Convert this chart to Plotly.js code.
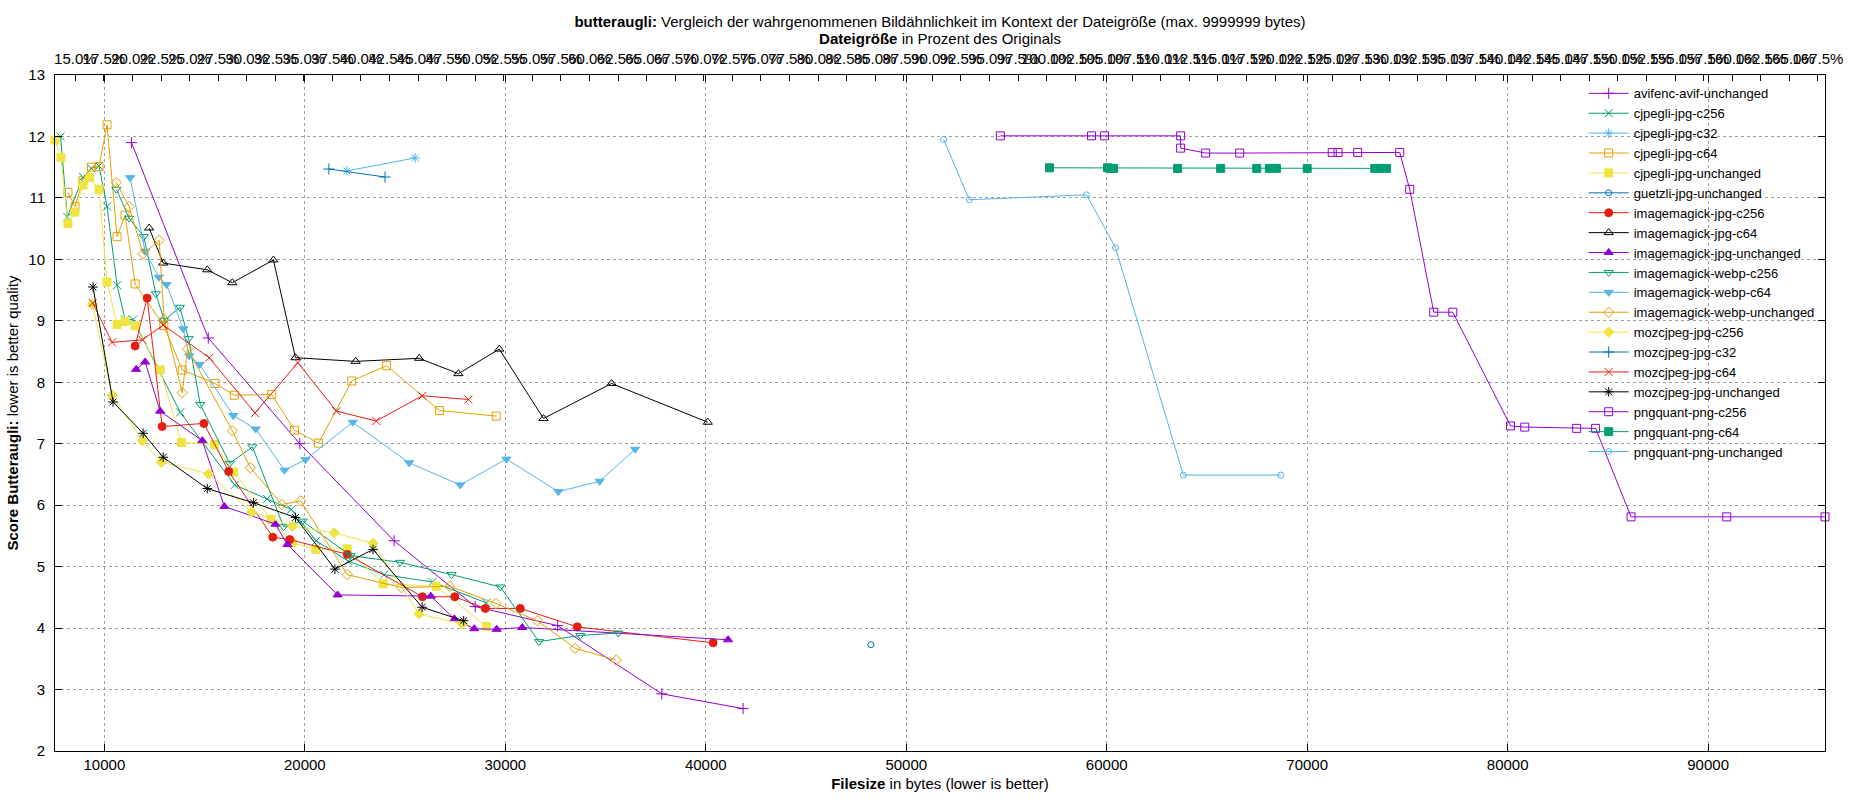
<!DOCTYPE html>
<html>
<head>
<meta charset="utf-8">
<script src="https://cdn.plot.ly/plotly-3.0.1.min.js"></script>
<style>
html, body { margin: 0; padding: 0; background: #fff; }
#plot { width: 1850px; height: 800px; }
</style>
</head>
<body>
<div id="plot"></div>
<script>
var avifencX = [11350, 15183, 19750, 24450, 28500, 32608, 37807, 41860];
var avifencY = [11.90, 8.72, 7.00, 5.42, 4.35, 4.04, 2.93, 2.69];

var cjpegliC256X = [7817, 8150, 8933, 9350, 9733, 10133, 10633, 11033, 11433, 13783, 16500, 18117, 19317, 20567, 22167, 23950, 26367, 29053];
var cjpegliC256Y = [12.00, 10.69, 11.34, 11.48, 11.52, 10.86, 9.58, 9.02, 9.02, 7.51, 6.33, 6.10, 5.93, 5.42, 5.09, 4.87, 4.75, 4.41];

var cjpegliC32X = [22100, 25500];
var cjpegliC32Y = [11.44, 11.65];

var cjpegliC64X = [8183, 8533, 8933, 9350, 9733, 10133, 10633, 11033, 11533, 12967, 13883, 15517, 16483, 18350, 19483, 20683, 22338, 24079, 26715, 29550];
var cjpegliC64Y = [11.09, 10.86, 11.28, 11.50, 11.51, 12.19, 10.37, 10.72, 9.60, 8.92, 8.20, 7.98, 7.79, 7.80, 7.22, 7.01, 8.02, 8.27, 7.54, 7.45];

var cjpegliUnchX = [7537, 7833, 8183, 8533, 8933, 9267, 9733, 10133, 10633, 11033, 11533, 12783, 13850, 15500, 16450, 18317, 19367, 20550, 22117, 23900, 26550, 29053];
var cjpegliUnchY = [11.94, 11.66, 10.58, 10.77, 11.21, 11.33, 11.14, 9.63, 8.94, 8.99, 8.92, 8.20, 7.02, 6.99, 6.54, 5.77, 5.39, 5.28, 5.29, 4.72, 4.68, 4.03];

var guetzliX = [48238];
var guetzliY = [3.73];

var imJpgC256X = [11533, 12133, 12883, 14967, 16200, 18400, 19250, 22117, 25867, 27480, 29003, 30747, 33588, 40365];
var imJpgC256Y = [8.59, 9.37, 7.28, 7.33, 6.55, 5.48, 5.44, 5.20, 4.51, 4.51, 4.32, 4.32, 4.02, 3.76];

var imJpgC64X = [12233, 12933, 15133, 16383, 18433, 19533, 22537, 25704, 27660, 29699, 31904, 35303, 40100];
var imJpgC64Y = [10.51, 9.94, 9.83, 9.62, 9.99, 8.40, 8.34, 8.39, 8.14, 8.54, 7.41, 7.98, 7.35];

var imJpgUnchX = [11583, 12033, 12783, 14883, 15983, 18533, 19133, 21633, 26283, 27459, 28455, 29568, 30847, 41112];
var imJpgUnchY = [8.21, 8.33, 7.53, 7.05, 5.98, 5.69, 5.36, 4.54, 4.52, 4.15, 3.99, 3.98, 4.01, 3.81];

var imWebpC256X = [10600, 11233, 11967, 12567, 12983, 13767, 14200, 14783, 16250, 17383, 18940, 19890, 22283, 24750, 27320, 29751, 31678, 33737, 35631];
var imWebpC256Y = [11.14, 10.67, 10.37, 9.44, 9.01, 9.22, 8.71, 7.64, 6.68, 6.95, 5.65, 5.74, 5.18, 5.07, 4.87, 4.67, 3.78, 3.88, 3.92];

var imWebpC64X = [11283, 12033, 12717, 13100, 13933, 14233, 14750, 16433, 17550, 18983, 20030, 22390, 25200, 27750, 30054, 32646, 34709, 36477];
var imWebpC64Y = [11.33, 10.13, 9.71, 9.59, 8.87, 8.43, 8.29, 7.46, 7.24, 6.57, 6.74, 7.35, 6.69, 6.33, 6.75, 6.22, 6.39, 6.91];

var imWebpUnchX = [10600, 11233, 11933, 12733, 12983, 13883, 14150, 16383, 17283, 18850, 19790, 22117, 24817, 27230, 29535, 31595, 33488, 35531];
var imWebpUnchY = [11.25, 10.86, 10.09, 10.31, 9.02, 7.83, 8.54, 7.21, 6.61, 6.01, 6.07, 4.87, 4.66, 4.68, 4.40, 4.12, 3.67, 3.48];

var mozC256X = [9400, 10383, 11900, 12840, 15200, 17350, 19383, 21467, 23400, 25700, 27841];
var mozC256Y = [9.27, 7.79, 7.05, 6.70, 6.51, 5.89, 5.66, 5.55, 5.38, 4.23, 4.07];

var mozC32X = [21200, 24000];
var mozC32Y = [11.47, 11.34];

var mozC64X = [9417, 10383, 11900, 12933, 15233, 17517, 19650, 21575, 23565, 25853, 28157];
var mozC64Y = [9.29, 8.65, 8.69, 8.93, 8.40, 7.50, 8.32, 7.53, 7.37, 7.78, 7.72];

var mozUnchX = [9433, 10433, 11933, 12933, 15133, 17433, 19533, 21500, 23400, 25850, 27924];
var mozUnchY = [9.55, 7.68, 7.17, 6.78, 6.27, 6.04, 5.80, 4.96, 5.28, 4.34, 4.12];

var pngC256X = [54695, 59241, 59890, 63686, 63686, 64935, 66633, 71250, 71539, 72518, 74615, 75115, 76314, 77263, 80144, 80851, 83444, 84387, 86155, 90928, 95830];
var pngC256Y = [12.01, 12.01, 12.01, 12.01, 11.81, 11.73, 11.73, 11.74, 11.74, 11.74, 11.74, 11.14, 9.14, 9.14, 7.29, 7.27, 7.25, 7.25, 5.81, 5.81, 5.81];

var pngC64X = [57143, 60040, 60200, 60340, 63536, 65684, 67483, 68115, 68465, 70000, 73370, 73600, 73960];
var pngC64Y = [11.49, 11.49, 11.48, 11.48, 11.48, 11.48, 11.48, 11.48, 11.48, 11.48, 11.48, 11.48, 11.48];

var pngUnchX = [51865, 53147, 58991, 60440, 63820, 68681];
var pngUnchY = [11.95, 10.97, 11.05, 10.19, 6.49, 6.49];

var series = [
  ['avifenc-avif-unchanged', avifencX, avifencY],
  ['cjpegli-jpg-c256', cjpegliC256X, cjpegliC256Y],
  ['cjpegli-jpg-c32', cjpegliC32X, cjpegliC32Y],
  ['cjpegli-jpg-c64', cjpegliC64X, cjpegliC64Y],
  ['cjpegli-jpg-unchanged', cjpegliUnchX, cjpegliUnchY],
  ['guetzli-jpg-unchanged', guetzliX, guetzliY],
  ['imagemagick-jpg-c256', imJpgC256X, imJpgC256Y],
  ['imagemagick-jpg-c64', imJpgC64X, imJpgC64Y],
  ['imagemagick-jpg-unchanged', imJpgUnchX, imJpgUnchY],
  ['imagemagick-webp-c256', imWebpC256X, imWebpC256Y],
  ['imagemagick-webp-c64', imWebpC64X, imWebpC64Y],
  ['imagemagick-webp-unchanged', imWebpUnchX, imWebpUnchY],
  ['mozcjpeg-jpg-c256', mozC256X, mozC256Y],
  ['mozcjpeg-jpg-c32', mozC32X, mozC32Y],
  ['mozcjpeg-jpg-c64', mozC64X, mozC64Y],
  ['mozcjpeg-jpg-unchanged', mozUnchX, mozUnchY],
  ['pngquant-png-c256', pngC256X, pngC256Y],
  ['pngquant-png-c64', pngC64X, pngC64Y],
  ['pngquant-png-unchanged', pngUnchX, pngUnchY]
];

var originalBytes = 57000;   // 100 % auf der oberen Achse
var xMin = 7537, xMax = 95830;

// gnuplot-Standardfarben und Punkttypen (Zyklus 8 bzw. 13)
var colors = ['#9400d3', '#009e73', '#56b4e9', '#e69f00', '#f0e442', '#0072b2', '#e51e10', '#000000'];
var symbols = ['cross-thin-open', 'x-thin-open', 'asterisk-open', 'square-open', 'square',
               'circle-open', 'circle', 'triangle-up-open', 'triangle-up', 'triangle-down-open',
               'triangle-down', 'diamond-open', 'diamond'];

var FONT = 'Liberation Sans, Arial, sans-serif';

var traces = series.map(function (s, i) {
  var sym = symbols[i % symbols.length];
  return {
    type: 'scatter',
    mode: 'lines+markers',
    name: s[0],
    x: s[1],
    y: s[2],
    cliponaxis: false,
    line: { color: colors[i % colors.length], width: 1 },
    marker: {
      symbol: sym,
      size: sym === 'circle-open' ? 6 : 8,
      color: colors[i % colors.length],
      line: { color: colors[i % colors.length], width: 1 }
    }
  };
});

// leere Spur, damit die obere Prozent-Achse gezeichnet wird
traces.push({ type: 'scatter', x: [], y: [], xaxis: 'x2', yaxis: 'y', showlegend: false, hoverinfo: 'skip' });

var axisCommon = {
  showline: true,
  linecolor: '#000',
  linewidth: 1,
  ticks: 'inside',
  tickcolor: '#000',
  zeroline: false,
  tickfont: { family: FONT, size: 15, color: '#000' }
};

var layout = {
  width: 1850,
  height: 800,
  paper_bgcolor: '#fff',
  plot_bgcolor: '#fff',
  margin: { l: 55, r: 25, t: 75, b: 49 },
  font: { family: FONT, size: 15, color: '#000' },
  showlegend: true,
  title: {
    text: '<b>butteraugli:</b> Vergleich der wahrgenommenen Bildähnlichkeit im Kontext der Dateigröße (max. 9999999 bytes)',
    font: { family: FONT, size: 15, color: '#000' },
    xref: 'paper', x: 0.5, xanchor: 'center',
    yref: 'container', y: 1 - 22 / 800, yanchor: 'middle'
  },
  xaxis: Object.assign({}, axisCommon, {
    range: [xMin, xMax],
    tick0: 0, dtick: 10000,
    tickformat: 'd',
    ticklen: 7,
    mirror: 'ticks',
    showgrid: true, gridcolor: '#a0a0a0', griddash: 'dot', gridwidth: 1,
    title: { text: '<b>Filesize</b> in bytes (lower is better)', font: { family: FONT, size: 15 }, standoff: 6 }
  }),
  xaxis2: Object.assign({}, axisCommon, {
    overlaying: 'x',
    anchor: 'y',
    side: 'top',
    range: [xMin / originalBytes * 100, xMax / originalBytes * 100],
    tick0: 15, dtick: 2.5,
    tickformat: '.1f', ticksuffix: '%',
    tickangle: 0,
    ticklen: 6,
    ticklabelstandoff: 4,
    showgrid: false,
    title: { text: '<b>Dateigröße</b> in Prozent des Originals', font: { family: FONT, size: 15 }, standoff: 1 }
  }),
  yaxis: Object.assign({}, axisCommon, {
    range: [2, 13],
    tick0: 0, dtick: 1,
    ticklen: 7,
    mirror: 'ticks',
    ticklabelstandoff: 6,
    showgrid: true, gridcolor: '#a0a0a0', griddash: 'dot', gridwidth: 1,
    title: { text: '<b>Score Butteraugli:</b> lower is better quality', font: { family: FONT, size: 15 }, standoff: 6 }
  }),
  legend: {
    x: 0.997, xanchor: 'right',
    y: 0.995, yanchor: 'top',
    bgcolor: 'rgba(0,0,0,0)',
    font: { family: FONT, size: 13, color: '#000' },
    itemwidth: 40,
    tracegroupgap: 0
  }
};

Plotly.newPlot('plot', traces, layout, { staticPlot: true, displayModeBar: false });
</script>
</body>
</html>
